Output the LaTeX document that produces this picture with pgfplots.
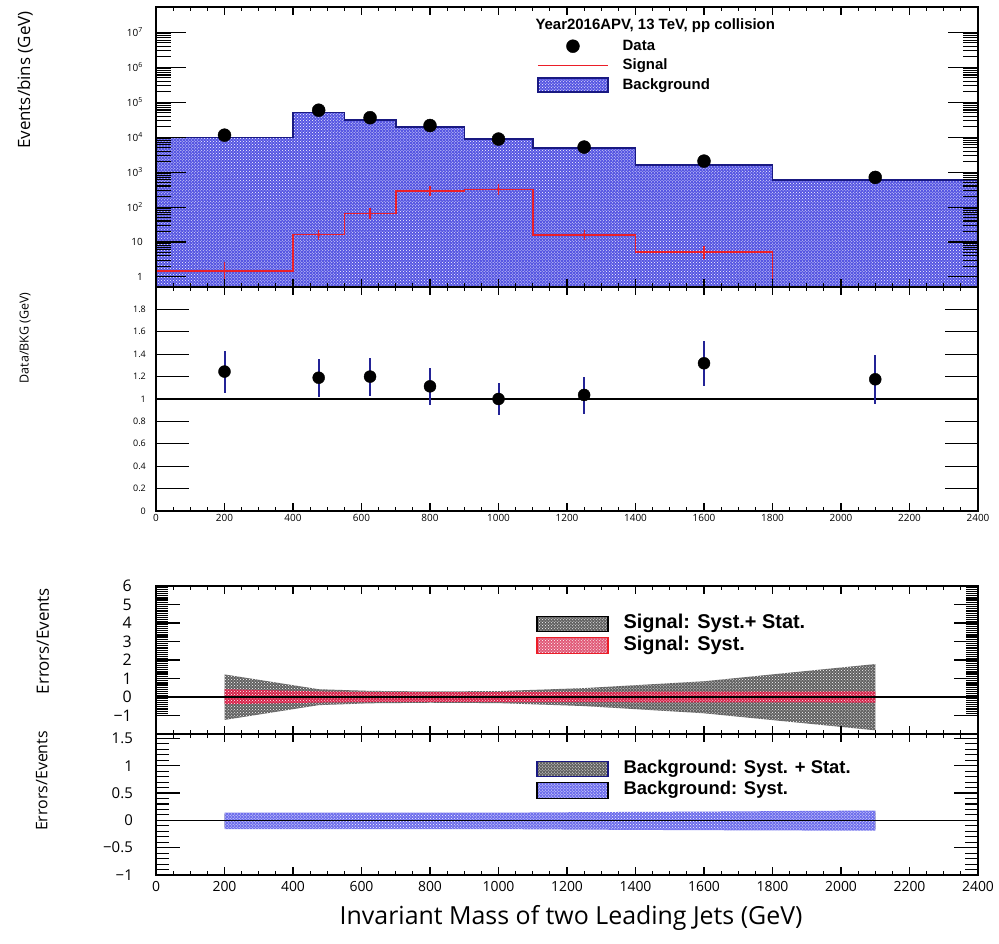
\documentclass[border=0pt]{standalone}
\usepackage{fontspec}
\setmainfont{Open Sans}
\newfontfamily\lfont{Liberation Sans}
\usepackage{pgfplots}
\pgfplotsset{compat=1.18}
\usepackage{pgfplotstable}
\usetikzlibrary{patterns}

\definecolor{bgblue}{RGB}{85,85,226}
\definecolor{navy}{RGB}{25,25,130}
\definecolor{sigred}{RGB}{235,30,40}
\definecolor{errnavy}{RGB}{35,35,150}
\definecolor{sband}{RGB}{215,35,75}
\definecolor{bband}{RGB}{110,110,236}

% background histogram (bin low edge, content)
\pgfplotstableread{
x y
0 1e-3
0 9800
400 51000
550 30600
700 19700
900 8900
1100 4950
1400 1580
1800 590
2400 590
2400 1e-3
}\bkg
% signal histogram
\pgfplotstableread{
x y
0 1.48
400 16.2
550 66
700 292
900 320
1100 16
1400 5.2
1800 1e-3
}\sig
% signal points with errors
\pgfplotstableread{
x y ep em
200 1.48 0.72 0.76
475 16.2 2.5 2.5
625 66 10 10
800 292 40 40
1000 320 45 45
1250 16 2.5 2.5
1600 5.2 1.3 1.3
}\sigerr
% data
\pgfplotstableread{
x y
200 11400
475 59000
625 36000
800 21500
1000 8800
1250 5200
1600 2060
2100 705
}\data
% ratio data/bkg
\pgfplotstableread{
x y ep em
200 1.245 0.185 0.19
475 1.19 0.165 0.17
625 1.20 0.167 0.173
800 1.113 0.165 0.164
1000 1.00 0.14 0.14
1250 1.036 0.161 0.167
1600 1.319 0.20 0.203
2100 1.176 0.221 0.224
}\ratio

\tikzset{dotfill/.style={fill=#1, postaction={pattern=crosshatch dots, pattern color=white}}}

\pgfplotsset{
  rootax/.style={
    scale only axis, width=822bp, xmin=0, xmax=2400, anchor=south west,
    axis on top, clip=true,
    axis line style={line width=1.4bp},
    every tick/.style={black, line width=1.1bp},
    tick align=inside,
    xtick={0,200,...,2400}, minor x tick num=3,
    xtick style={/pgfplots/major tick length=8bp, /pgfplots/minor tick length=4bp},
    /pgf/number format/assume math mode=true,
    /pgf/number format/1000 sep={},
    every axis y label/.style={rotate=90, anchor=center},
  },
}

\begin{document}
\begin{tikzpicture}
\path[use as bounding box] (0bp,0bp) rectangle (999bp,944bp);

% ---------- Panel 1 ----------
\begin{axis}[rootax, at={(156bp,657bp)}, height=280bp,
  ymode=log, ymin=0.516, ymax=5.3e7,
  ytick={1,10,100,1000,10000,100000,1000000,10000000},
  yticklabels={1,10,10\textsuperscript{2},10\textsuperscript{3},10\textsuperscript{4},10\textsuperscript{5},10\textsuperscript{6},10\textsuperscript{7}},
  ytick style={/pgfplots/major tick length=30bp, /pgfplots/minor tick length=15bp},
  yticklabel style={font=\fontsize{10}{12}\selectfont, inner sep=0pt, xshift=-13bp},
  xticklabels={},
  ylabel={Events/bins (GeV)},
  ylabel style={at={(axis description cs:-0.1594,0.739)}, font=\fontsize{17}{20}\selectfont},
]
\addplot[const plot mark left, draw=navy, line width=1.5bp, dotfill=bgblue] table {\bkg} -- cycle;
\addplot[const plot mark left, draw=sigred, line width=1.5bp] table {\sig};
\addplot[draw=none, mark=none, error bars/.cd, y dir=both, y explicit,
  error bar style={sigred, line width=1.2bp}, error mark options={sigred, line width=1.2bp, mark size=3bp}]
  table[y error plus=ep, y error minus=em] {\sigerr};
\addplot[only marks, mark=*, mark size=1.5bp, sigred] table {\sigerr};
\addplot[only marks, mark=*, mark size=6.5bp, black] table {\data};
\node[anchor=west, font=\lfont\bfseries\fontsize{15}{18}\selectfont] at (axis description cs:0.4574,0.932) {Year2016APV, 13 TeV, pp collision};
\end{axis}

% ---------- Panel 2 (also carries the legend of panel 1) ----------
\begin{axis}[rootax, at={(156bp,433bp)}, height=224bp,
  ymin=0, ymax=2,
  ytick={0,0.2,...,1.81,2}, yticklabels={0,0.2,0.4,0.6,0.8,1,1.2,1.4,1.6,1.8,},
  minor y tick num=3,
  ytick style={/pgfplots/major tick length=33bp, /pgfplots/minor tick length=17bp},
  yticklabel style={font=\fontsize{9}{11}\selectfont, inner sep=0pt, xshift=-10bp},
  xticklabel style={font=\fontsize{10}{12}\selectfont, inner sep=0pt, yshift=-3.5bp},
  ylabel={Data/BKG (GeV)},
  ylabel style={at={(axis description cs:-0.1594,0.772)}, font=\fontsize{12.5}{15}\selectfont},
  legend style={at={(0.4635,2.1194)}, anchor=north west, draw=none, fill=none,
    inner sep=0pt, column sep=14bp, row sep=0pt,
    nodes={inner sep=0pt, text height=11bp, text depth=3bp},
    font=\lfont\bfseries\fontsize{15}{18}\selectfont},
  legend cell align=left,
]
\addplot[black, line width=1.2bp, forget plot] coordinates {(0,1) (2400,1)};
\addplot[draw=none, mark=none, forget plot, error bars/.cd, y dir=both, y explicit,
  error bar style={errnavy, line width=2bp}, error mark=none]
  table[y error plus=ep, y error minus=em] {\ratio};
\addplot[only marks, mark=*, mark size=6bp, black, forget plot] table {\ratio};
\addlegendimage{legend image code/.code={\path[draw=none,fill=none] (0bp,-9.75bp) rectangle (70bp,9.75bp); \fill[black] (35bp,0bp) circle (6.5bp);}}
\addlegendentry{Data}
\addlegendimage{legend image code/.code={\path[draw=none,fill=none] (0bp,-9.75bp) rectangle (70bp,9.75bp); \draw[sigred, line width=1.5bp] (0bp,0bp) -- (70bp,0bp);}}
\addlegendentry{Signal}
\addlegendimage{legend image code/.code={\path[draw=none,fill=none] (0bp,-9.75bp) rectangle (70bp,9.75bp); \draw[navy, line width=1.5bp, dotfill=bgblue] (0bp,-7bp) rectangle (70bp,7bp);}}
\addlegendentry{Background}
\end{axis}

% ---------- Panel 3 ----------
\begin{axis}[rootax, at={(156bp,210bp)}, height=148bp,
  ymin=-2, ymax=6,
  ytick={-1,0,...,6}, yticklabels={−1,0,1,2,3,4,5,6},
  minor y tick num=9,
  ytick style={/pgfplots/major tick length=24bp, /pgfplots/minor tick length=12bp},
  yticklabel style={font=\fontsize{16}{19}\selectfont, inner sep=0pt, xshift=-24bp},
  xticklabels={},
  ylabel={Errors/Events},
  ylabel style={at={(axis description cs:-0.1375,0.628)}, font=\fontsize{17}{20}\selectfont},
  legend style={at={(0.4623,0.819)}, anchor=north west, draw=none, fill=none,
    inner sep=0pt, column sep=15bp, row sep=0pt,
    nodes={inner sep=0pt, text height=14bp, text depth=4bp},
    font=\lfont\bfseries\fontsize{20}{24}\selectfont},
  legend cell align=left,
]
\addplot[draw=none, dotfill=black!62, forget plot] coordinates {
 (200,1.22) (475,0.42) (625,0.33) (800,0.30) (1000,0.32) (1250,0.48) (1600,0.85) (2100,1.78)
 (2100,-1.80) (1600,-0.88) (1250,-0.49) (1000,-0.33) (800,-0.31) (625,-0.34) (475,-0.44) (200,-1.24)} -- cycle;
\addplot[draw=none, dotfill=sband, forget plot] coordinates {
 (200,0.42) (475,0.30) (625,0.27) (800,0.27) (1000,0.27) (1250,0.28) (1600,0.29) (2100,0.30)
 (2100,-0.30) (1600,-0.29) (1250,-0.28) (1000,-0.27) (800,-0.27) (625,-0.27) (475,-0.30) (200,-0.39)} -- cycle;
\addplot[black, line width=1.2bp, forget plot] coordinates {(0,0) (2400,0)};
\addlegendimage{legend image code/.code={\path[draw=none,fill=none] (0bp,-10.75bp) rectangle (71bp,10.75bp); \draw[black, line width=1.3bp, dotfill=black!62] (0bp,-7.5bp) rectangle (71bp,7.5bp);}}
\addlegendentry{Signal: Syst.+ Stat.}
\addlegendimage{legend image code/.code={\path[draw=none,fill=none] (0bp,-10.75bp) rectangle (71bp,10.75bp); \draw[sigred, line width=1.3bp, dotfill=sband!75] (0bp,-8bp) rectangle (71bp,8bp);}}
\addlegendentry{Signal: Syst.}
\end{axis}

% ---------- Panel 4 ----------
\begin{axis}[rootax, at={(156bp,69bp)}, height=141bp,
  ymin=-1, ymax=1.58,
  ytick={-1,-0.5,0,0.5,1,1.5}, yticklabels={−1,−0.5,0,0.5,1,1.5},
  minor y tick num=4,
  ytick style={/pgfplots/major tick length=24bp, /pgfplots/minor tick length=13bp},
  yticklabel style={font=\fontsize{15}{18}\selectfont, inner sep=0pt, xshift=-23bp},
  xticklabel style={font=\fontsize{14}{17}\selectfont, inner sep=0pt, yshift=-6.5bp},
  ylabel={Errors/Events},
  ylabel style={at={(axis description cs:-0.139,0.667)}, font=\fontsize{16}{19}\selectfont},
  xlabel={Invariant Mass of two Leading Jets (GeV)},
  xlabel style={at={(axis description cs:0.505,-0.305)}, anchor=center, font=\fontsize{25}{30}\selectfont},
  legend style={at={(0.4623,0.8316)}, anchor=north west, draw=none, fill=none,
    inner sep=0pt, column sep=15bp, row sep=0pt,
    nodes={inner sep=0pt, text height=13bp, text depth=4bp},
    font=\lfont\bfseries\fontsize{18.5}{22}\selectfont},
  legend cell align=left,
]
\addplot[draw=none, dotfill=black!62, forget plot] coordinates {
 (200,0.12) (625,0.12) (1000,0.12) (1600,0.14) (2100,0.16)
 (2100,-0.16) (1600,-0.14) (1000,-0.13) (625,-0.13) (200,-0.13)} -- cycle;
\addplot[draw=none, dotfill=bband, forget plot] coordinates {
 (200,0.14) (475,0.14) (625,0.14) (800,0.14) (1000,0.14) (1250,0.15) (1600,0.16) (2100,0.18)
 (2100,-0.19) (1600,-0.18) (1250,-0.17) (1000,-0.16) (800,-0.16) (625,-0.16) (475,-0.16) (200,-0.16)} -- cycle;
\addplot[black, line width=1.2bp, forget plot] coordinates {(0,0) (2400,0)};
\addlegendimage{legend image code/.code={\path[draw=none,fill=none] (0bp,-10.75bp) rectangle (71bp,10.75bp); \draw[navy, line width=1.3bp, dotfill=black!62] (0bp,-7.5bp) rectangle (71bp,7.5bp);}}
\addlegendentry{Background: Syst. + Stat.}
\addlegendimage{legend image code/.code={\path[draw=none,fill=none] (0bp,-10.75bp) rectangle (71bp,10.75bp); \draw[black, line width=1.3bp, dotfill=bband] (0bp,-8bp) rectangle (71bp,8bp);}}
\addlegendentry{Background: Syst.}
\end{axis}
\end{tikzpicture}
\end{document}
